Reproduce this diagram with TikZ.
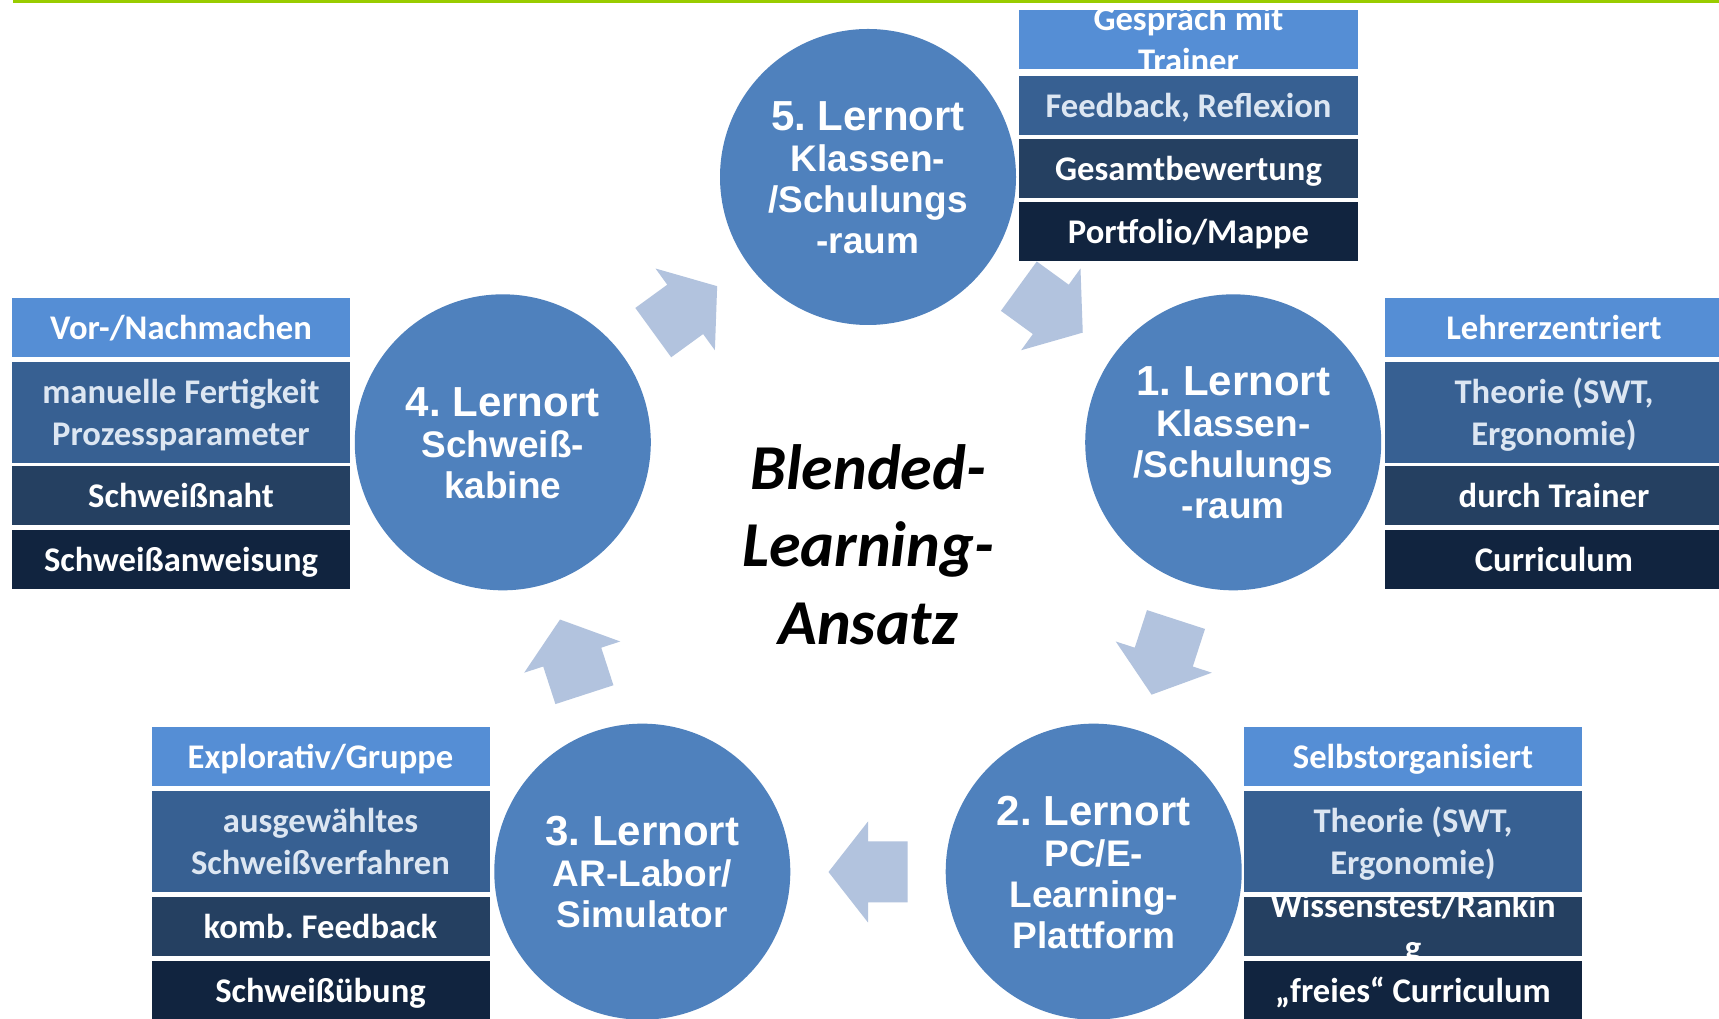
\documentclass[tikz,border=0pt]{standalone}
\usepackage{fontspec}
\setmainfont{Liberation Sans}
\newfontfamily\calib{Carlito}
\usetikzlibrary{calc}
\frenchspacing
\definecolor{circc}{HTML}{4F81BD}
\definecolor{rowa}{HTML}{558ED5}
\definecolor{rowb}{HTML}{376092}
\definecolor{rowc}{HTML}{254061}
\definecolor{rowd}{HTML}{11243F}
\definecolor{rowbtext}{HTML}{DCE6F2}
\definecolor{arrowc}{HTML}{B2C3DE}
\definecolor{greenl}{HTML}{99CC00}
\newcommand\boxstrut{\rule[-8.75pt]{0pt}{42pt}}
\newcommand\circstrut{\rule[-5.5pt]{0pt}{41pt}}
\newcommand\ctrstrut{\rule[-17.75pt]{0pt}{77.5pt}}
\newcommand\firstl[1]{{\fontsize{42}{41}\selectfont\circstrut #1}}
\tikzset{
  circ/.style={circle, fill=circc, minimum size=296pt, inner sep=0pt, text=white, align=center,
    font={\bfseries\fontsize{37}{41}\selectfont\lineskiplimit=-1000pt}},
  boxtext/.style={inner sep=0pt, text=white, align=center,
    font={\calib\bfseries\fontsize{34.6}{42}\selectfont\lineskiplimit=-1000pt}},
  box/.style={boxtext, rectangle, minimum width=338pt, minimum height=59pt, outer sep=0pt},
  rowA/.style={box, fill=rowa},
  rowB/.style={box, fill=rowb, text=rowbtext, minimum height=101pt},
  rowC/.style={box, fill=rowc},
  rowD/.style={box, fill=rowd},
  blockarrow/.pic={\fill[arrowc] (-39.5,-30.5) -- (0,-30.5) -- (0,-50.5) -- (39.5,0) -- (0,50.5) -- (0,30.5) -- (-39.5,30.5) -- cycle;}
}
\begin{document}
\begin{tikzpicture}[x=1pt,y=1pt]
\useasboundingbox (0,0) rectangle (1719,1019);
\clip (0,0) rectangle (1719,1019);
\fill[white] (0,0) rectangle (1719,1019);
% top green line
\fill[greenl] (13,1016.3) rectangle (1719,1019);
\coordinate (C) at (868,458);
% block arrows
\path (C) ++(54:311) pic[rotate=-36] {blockarrow};
\path (C) ++(-18:311) pic[rotate=-108] {blockarrow};
\path (C) ++(-90:311) pic[rotate=180] {blockarrow};
\path (C) ++(-162:311) pic[rotate=108] {blockarrow};
\path (C) ++(126:311) pic[rotate=36] {blockarrow};
% circles
\node[circ] (c5) at ($(C)+(90:384)$) {\firstl{5. Lernort}\\\circstrut Klassen-\\\circstrut /Schulungs\\\circstrut -raum};
\node[circ] (c1) at ($(C)+(18:384)$) {\firstl{1. Lernort}\\\circstrut Klassen-\\\circstrut /Schulungs\\\circstrut -raum};
\node[circ] (c2) at ($(C)+(-54:384)$) {\firstl{2. Lernort}\\\circstrut PC/E-\\\circstrut Learning-\\\circstrut Plattform};
\node[circ] (c3) at ($(C)+(-126:384)$) {\firstl{3. Lernort}\\\circstrut AR-Labor/\\\circstrut Simulator};
\node[circ] (c4) at ($(C)+(162:384)$) {\firstl{4. Lernort}\\\circstrut Schwei\ss-\\\circstrut kabine};
% top-right group (Lernort 5)
\node[rowA, minimum width=339pt] (t1) at (1188.5,979.5) {};
\node[boxtext] (t1t) at (t1) {\boxstrut Gespräch mit\\\boxstrut Trainer};
\node[rowB, minimum width=339pt, minimum height=59pt] (t2) at (1188.5,913.5) {\boxstrut Feedback, Reflexion};
\node[rowC, minimum width=339pt] (t3) at (1188.5,850.5) {\boxstrut Gesamtbewertung};
\node[rowD, minimum width=339pt] (t4) at (1188.5,787.5) {\boxstrut Portfolio/Mappe};
% right group (Lernort 1)
\node[rowA] (r1) at (1554,691.5) {\boxstrut Lehrerzentriert};
\node[rowB] (r2) at (1554,606.5) {\boxstrut Theorie (SWT,\\\boxstrut Ergonomie)};
\node[rowC] (r3) at (1554,523.5) {\boxstrut durch Trainer};
\node[rowD] (r4) at (1554,459.5) {\boxstrut Curriculum};
% left group (Lernort 4)
\node[rowA] (l1) at (181,691.5) {\boxstrut Vor-/Nachmachen};
\node[rowB] (l2) at (181,606.5) {\boxstrut manuelle Fertigkeit\\\boxstrut Prozessparameter};
\node[rowC] (l3) at (181,523.5) {\boxstrut Schwei\ss naht};
\node[rowD] (l4) at (181,459.5) {\boxstrut Schwei\ss anweisung};
% bottom-left group (Lernort 3)
\node[rowA] (bl1) at (320.5,262.5) {\boxstrut Explorativ/Gruppe};
\node[rowB] (bl2) at (320.5,177.5) {\boxstrut ausgewähltes\\\boxstrut Schwei\ss verfahren};
\node[rowC] (bl3) at (320.5,92.5) {\boxstrut komb. Feedback};
\node[rowD] (bl4) at (320.5,28.5) {\boxstrut Schwei\ss übung};
% bottom-right group (Lernort 2)
\node[rowA] (br1) at (1413,262.5) {\boxstrut Selbstorganisiert};
\node[rowB] (br2) at (1413,177.5) {\boxstrut Theorie (SWT,\\\boxstrut Ergonomie)};
\node[rowC] (br3) at (1413,92.5) {};
\node[boxtext] (br3t) at (br3) {\boxstrut Wissenstest/Rankin\\\boxstrut g};
\node[rowD] (br4) at (1413,28.5) {\boxstrut „freies“ Curriculum};
% centre title
\node[align=center, inner sep=0pt, font={\calib\bfseries\itshape\fontsize{64}{77.5}\selectfont\lineskiplimit=-1000pt}] (title) at (868,473) {\ctrstrut Blended-\\\ctrstrut Learning-\\\ctrstrut Ansatz};
\end{tikzpicture}
\end{document}
